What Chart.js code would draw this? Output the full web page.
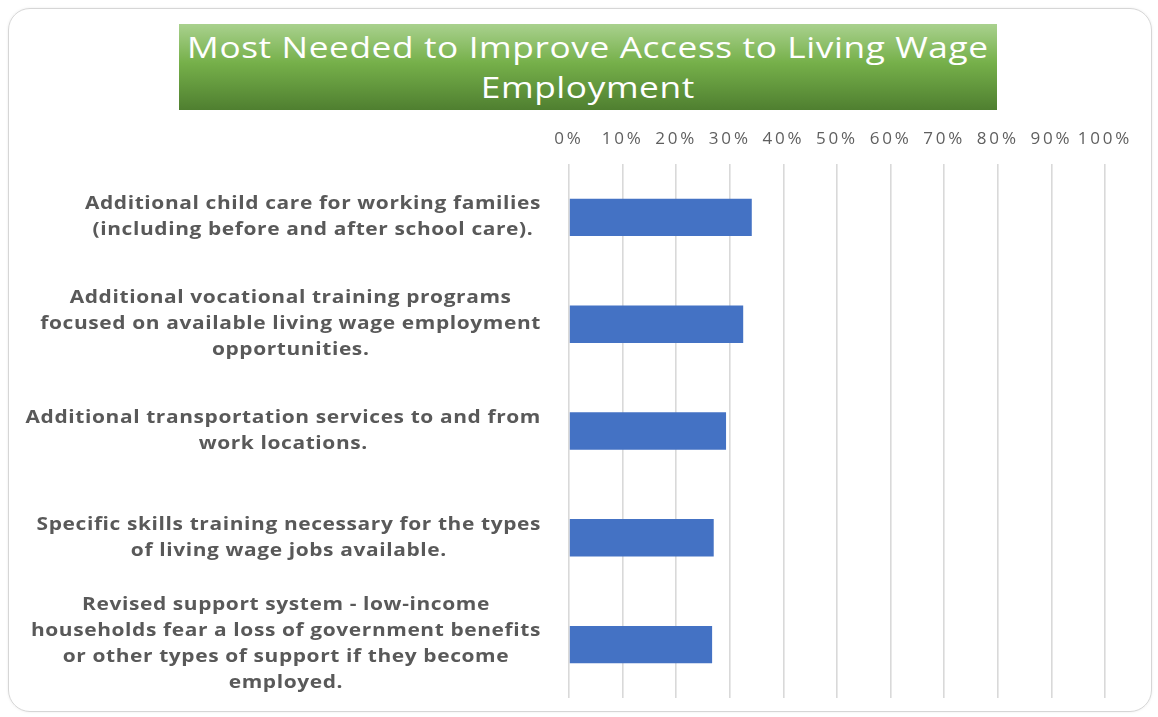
<!DOCTYPE html>
<html>
<head>
<meta charset="utf-8">
<script src="https://cdn.jsdelivr.net/npm/chart.js@4/dist/chart.umd.min.js"></script>
<style>
  html, body { margin: 0; padding: 0; background: #fff; }
  #wrap { position: relative; width: 1158px; height: 717px; overflow: hidden; }
  #card {
    position: absolute; left: 8px; top: 8px; width: 1142px; height: 702px;
    border: 1.5px solid #d6d6d6; border-radius: 22px;
    box-shadow: 0 0 3px rgba(0,0,0,0.08);
  }
  #title {
    position: absolute; left: 179px; top: 24px; width: 818px; height: 86px;
    background: linear-gradient(to bottom, #a9d18e 0%, #76b04a 45%, #4f7f30 100%);
    color: #fff; font-family: "Open Sans", sans-serif; font-size: 29px;
    line-height: 40px; text-align: center;
    padding-top: 3px; box-sizing: border-box; overflow: hidden;
  }
  #title span {
    display: inline-block; letter-spacing: 0.5px;
    transform: scaleX(1.215); transform-origin: center;
  }
  canvas { position: absolute; left: 0; top: 0; }
</style>
</head>
<body>
<div id="wrap">
  <div id="card"></div>
  <canvas id="chart" width="1158" height="717"></canvas>
  <div id="title"><span>Most Needed to Improve Access to Living Wage<br>Employment</span></div>
</div>
<script>
const categories = [
  ["Additional child care for working families", "(including before and after school care)."],
  ["Additional vocational training programs", "focused on available living wage employment", "opportunities."],
  ["Additional transportation services to and from", "work locations."],
  ["Specific skills training necessary for the types", "of living wage jobs available."],
  ["Revised support system - low-income", "households fear a loss of government benefits", "or other types of support if they become", "employed."]
];
const shares = [0.341, 0.325, 0.293, 0.270, 0.267];
const tickLabels = ["0%", "10%", "20%", "30%", "40%", "50%", "60%", "70%", "80%", "90%", "100%"];

// category labels: lines centered inside a block that is right-aligned to the axis,
// set in a slightly widened bold face
const categoryLabels = {
  id: "categoryLabels",
  afterDraw(chart) {
    const ctx = chart.ctx
    const yScale = chart.scales.y
    const right = 541
    const lineHeight = 26
    const stretch = 1.23
    ctx.save()
    ctx.font = "bold 17px 'Open Sans'"
    ctx.letterSpacing = "0.5px"
    ctx.fillStyle = "#595959"
    ctx.textAlign = "center"
    ctx.textBaseline = "middle"
    categories.forEach((lines, i) => {
      const y = yScale.getPixelForValue(i)
      const widest = Math.max(...lines.map(l => ctx.measureText(l).width)) * stretch
      const cx = right - widest / 2
      const top = y - (lines.length - 1) * lineHeight / 2
      lines.forEach((l, j) => {
        ctx.save()
        ctx.translate(cx, top + j * lineHeight)
        ctx.scale(stretch, 1)
        ctx.fillText(l, 0, 0)
        ctx.restore()
      })
    })
    ctx.restore()
  }
}

// wider spacing for the percent ticks
const tickSpacing = {
  id: "tickSpacing",
  beforeDraw(chart) {
    chart.ctx.letterSpacing = "2.8px"
  }
}

new Chart(document.getElementById("chart"), {
  type: "bar",
  data: {
    labels: categories,
    datasets: [{
      data: shares,
      backgroundColor: "#4472c4",
      borderWidth: 0,
      categoryPercentage: 1,
      barPercentage: 0.35
    }]
  },
  options: {
    indexAxis: "y",
    responsive: false,
    animation: false,
    layout: {
      padding: {top: 120, left: 569, right: 53, bottom: 19}
    },
    plugins: {
      legend: {display: false},
      tooltip: {enabled: false}
    },
    scales: {
      x: {
        position: "top",
        min: 0,
        max: 1,
        afterFit: s => { s.height = 44 },
        afterBuildTicks: s => { s.ticks = tickLabels.map((t, i) => ({value: i / 10})) },
        border: {display: false},
        grid: {color: "#d9d9d9", lineWidth: 1.6, drawTicks: false},
        ticks: {
          autoSkip: false,
          maxRotation: 0,
          minRotation: 0,
          padding: 15,
          color: "#5f5f5f",
          font: {family: "'Open Sans'", size: 17},
          callback: (v, i) => tickLabels[i]
        }
      },
      y: {
        afterFit: s => { s.width = 0 },
        border: {display: false},
        grid: {display: false},
        ticks: {display: false}
      }
    }
  },
  plugins: [categoryLabels, tickSpacing]
})
</script>
</body>
</html>
